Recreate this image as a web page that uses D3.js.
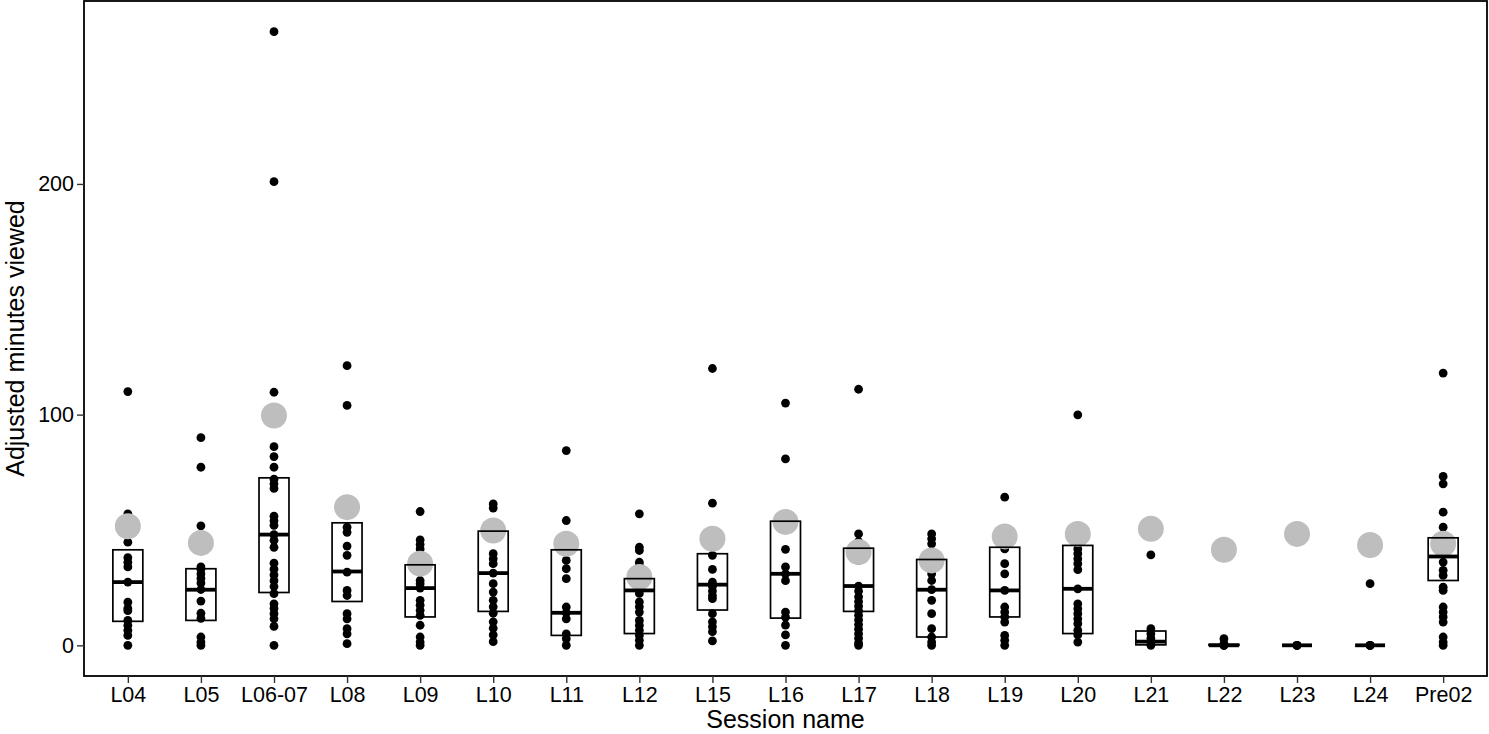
<!DOCTYPE html>
<html>
<head>
<meta charset="utf-8">
<script src="https://cdn.jsdelivr.net/npm/d3@7"></script>
<style>
  html, body { margin: 0; padding: 0; background: #fff; }
  svg { display: block; font-family: "Liberation Sans", Arial, sans-serif; }
</style>
</head>
<body>
<svg id="chart" width="1489" height="734"></svg>
<script>
// ---------------- data ----------------
const categories = ["L04","L05","L06-07","L08","L09","L10","L11","L12","L15","L16","L17","L18","L19","L20","L21","L22","L23","L24","Pre02"];

const boxLower  = [10.4, 10.8, 22.9, 19.0, 12.3, 14.7, 4.3, 5.1, 15.3, 11.8, 14.7, 3.6, 12.3, 5.1, 0.2, 0, 0, 0, 28.1];
const boxMedian = [27.4, 24.1, 48.0, 32.0, 24.8, 31.3, 14.1, 23.8, 26.3, 31.0, 25.7, 24.1, 23.8, 24.5, 1.6, 0, 0, 0, 38.5];
const boxUpper  = [41.4, 33.2, 72.6, 53.1, 34.9, 49.5, 41.4, 28.9, 39.7, 53.8, 42.1, 37.2, 42.5, 43.3, 6.2, 0.4, 0, 0, 46.6];

const grayValues = [51.6, 44.4, 99.6, 59.9, 35.4, 49.8, 44.0, 29.6, 46.2, 53.5, 40.4, 36.8, 47.2, 48.3, 50.5, 41.4, 48.3, 43.5, 44.0];

const pointValues = [
  [110, 57, 44.7, 38, 36, 34, 27.4, 18.7, 16, 15, 10.8, 8.7, 6.5, 4.3, 0],
  [90, 77.2, 51.8, 34, 33, 31, 29, 27, 24.2, 19.2, 13.9, 11.7, 3.6, 1.4, 0],
  [266, 201, 109.7, 86.1, 81.8, 77.2, 72, 70, 68, 56, 54, 52, 48, 45.5, 42.5, 35.6, 33, 30.5, 28, 25.5, 22.4, 18, 16, 13.7, 11.5, 8.2, 0],
  [121.2, 104, 51.2, 49, 43, 39, 31.7, 23.8, 21.6, 13.7, 11.5, 7.2, 5, 0.7],
  [58, 45.7, 43.7, 41.8, 28.1, 26.7, 24.8, 19.5, 17.4, 15.2, 13, 8.7, 3.6, 1.4, 0],
  [61.3, 59.5, 39.7, 37.5, 35.4, 31.3, 26.7, 23.1, 19.5, 16.7, 13.9, 10.2, 7.4, 4.5, 1.6],
  [84.4, 54.1, 36.8, 33.2, 28.9, 16.6, 14.1, 11.5, 5, 2.9, 0],
  [57, 42.5, 41.1, 36, 34.6, 24, 22.5, 18.8, 16.7, 14.4, 10.8, 8.7, 6.5, 4.3, 2.2, 0],
  [120, 61.6, 39, 32.9, 27.4, 25.5, 23.5, 21.5, 20.2, 13.7, 10.2, 8.1, 5.9, 1.9],
  [105, 80.8, 41.6, 34, 31, 28, 14.4, 12.2, 8.8, 4.5, 0],
  [111, 48.3, 45, 36.8, 25.7, 23.5, 21, 19, 17, 15, 13, 11, 9, 7, 5, 3, 1, 0],
  [48.3, 46.2, 44, 31, 28.1, 24.1, 19.5, 13.7, 7.2, 3.6, 1.4, 0],
  [64.2, 41.8, 35.4, 31, 23.8, 16.6, 14.4, 12.3, 10.1, 4.3, 2.2, 0],
  [99.9, 41.8, 39.7, 37.5, 35.4, 32.8, 24.5, 18, 15.8, 13.7, 11.5, 9.4, 6.5, 4.5, 1.4],
  [39.2, 7.2, 5, 3, 1.4, 0],
  [2.9, 0.7, 0, 0],
  [0, 0, 0],
  [26.7, 0, 0, 0],
  [118, 73.2, 70, 57.7, 51.2, 47.6, 36.1, 32.5, 30.3, 25.2, 23.8, 16.6, 14.4, 12.3, 10.1, 3.6, 1.4, 0]
];

const yTicks = [0, 100, 200];
const xTitle = "Session name";
const yTitle = "Adjusted minutes viewed";

// ---------------- layout ----------------
const svg = d3.select("#chart");
const panel = { left: 84, right: 1487, top: 1, bottom: 676 };

const x = d3.scalePoint().domain(categories).range([panel.left, panel.right]).padding(0.6);
const y = d3.scaleLinear().domain([-13.3, 279.3]).range([panel.bottom, panel.top]);
const boxW = x.step() * 0.41;

// points
const pts = [];
categories.forEach((c, i) => pointValues[i].forEach(v => pts.push({ c, v })));
svg.append("g").selectAll("circle").data(pts).join("circle")
  .attr("cx", d => x(d.c)).attr("cy", d => y(d.v)).attr("r", 4.4)
  .attr("fill", "#000");

// gray circles
svg.append("g").selectAll("circle").data(categories).join("circle")
  .attr("cx", d => x(d)).attr("cy", (d, i) => y(grayValues[i])).attr("r", 13)
  .attr("fill", "#bebebe");

// boxes (crossbars)
const boxes = svg.append("g");
categories.forEach((c, i) => {
  const top = y(boxUpper[i]), bot = y(boxLower[i]);
  boxes.append("rect")
    .attr("x", x(c) - boxW / 2).attr("y", top)
    .attr("width", boxW).attr("height", Math.max(0, bot - top))
    .attr("fill", "none").attr("stroke", "#000").attr("stroke-width", 1.7);
  boxes.append("line")
    .attr("x1", x(c) - boxW / 2).attr("x2", x(c) + boxW / 2)
    .attr("y1", y(boxMedian[i])).attr("y2", y(boxMedian[i]))
    .attr("stroke", "#000").attr("stroke-width", 3.8);
});

// panel border
svg.append("rect")
  .attr("x", panel.left).attr("y", panel.top)
  .attr("width", panel.right - panel.left).attr("height", panel.bottom - panel.top)
  .attr("fill", "none").attr("stroke", "#000").attr("stroke-width", 1.8);

// axes
const xAxis = svg.append("g").attr("transform", `translate(0,${panel.bottom})`)
  .call(d3.axisBottom(x).tickSize(7).tickPadding(4));
const yAxis = svg.append("g").attr("transform", `translate(${panel.left},0)`)
  .call(d3.axisLeft(y).tickValues(yTicks).tickSize(7).tickPadding(3));
[xAxis, yAxis].forEach(a => {
  a.select(".domain").remove();
  a.selectAll(".tick line").attr("stroke", "#333").attr("stroke-width", 1.4);
  a.selectAll(".tick text").attr("fill", "#000").style("font-size", "21.5px")
    .style("font-family", "'Liberation Sans', Arial, sans-serif");
});

// titles
svg.append("text")
  .attr("x", (panel.left + panel.right) / 2).attr("y", 728)
  .attr("text-anchor", "middle").style("font-size", "25px").attr("fill", "#000")
  .text(xTitle);
svg.append("text")
  .attr("transform", `translate(23.5,${(panel.top + panel.bottom) / 2}) rotate(-90)`)
  .attr("text-anchor", "middle").style("font-size", "25px").attr("fill", "#000")
  .text(yTitle);
</script>
</body>
</html>
